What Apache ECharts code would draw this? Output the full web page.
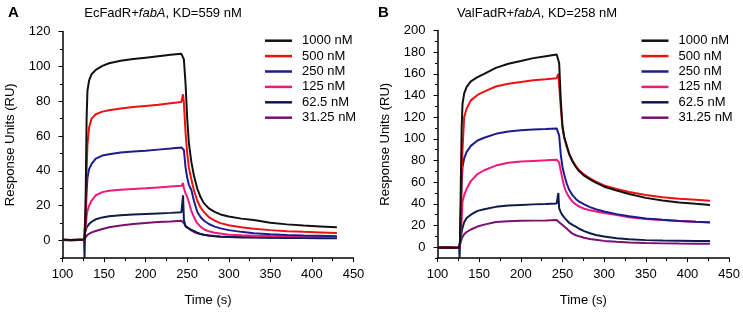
<!DOCTYPE html>
<html>
<head>
<meta charset="utf-8">
<script src="https://cdn.jsdelivr.net/npm/echarts@6/dist/echarts.min.js"></script>
<style>
  html, body { margin: 0; padding: 0; background: #fff; }
  #chart { width: 743px; height: 312px; }
</style>
</head>
<body>
<div id="chart"></div>
<script>
// concentrations (legend)
var concNames = ['1000 nM', '500 nM', '250 nM', '125 nM', '62.5 nM', '31.25 nM'];
var concColors = ['#111111', '#ee1111', '#1c1c8c', '#ee1a7a', '#0f1a4d', '#7a1070'];

// panel A - EcFadR + fabA
var timeA = [100, 110, 120, 126, 126.5, 127, 128, 129, 130, 132, 135, 140, 148, 156, 170, 185, 200, 215, 230, 243,
  245, 246, 248, 250, 252, 255, 258, 262, 266, 270, 276, 283, 290, 300, 315, 330, 350, 370, 390, 410, 430];
var a1000 = [0.5, 0.3, 0.5, 0.5, 0.5, 2, 30, 70, 86, 92, 95.5, 98, 100.3, 101.8, 103.2, 104.2, 105, 105.8, 106.6, 107.2,
  107, 104, 90, 70, 56, 45, 37.5, 30, 25, 21.5, 18.5, 16.5, 15, 13.8, 12.6, 11.8, 10.2, 9.3, 8.6, 8.1, 7.6];
var a500 = [0.5, 0.3, 0.5, 0.5, 0.5, 1, 20, 40, 55, 65, 70, 72.5, 74, 74.8, 75.8, 76.6, 77.3, 78, 78.8, 79.5,
  84, 79, 62, 50, 42, 35, 29, 23, 19, 16.5, 13.5, 11.5, 10, 8.8, 7.6, 6.8, 6, 5.4, 5, 4.7, 4.4];
var a250 = [0.5, 0.3, 0.5, 0.5, 0.5, 1, 15, 28, 36, 41, 44, 47, 48.8, 49.6, 50.5, 51.1, 51.6, 52.2, 52.8, 53.4,
  54.5, 52, 42, 36, 32, 29, 23, 16.5, 13.5, 11.5, 9.5, 8, 7, 6, 5, 4.2, 3.6, 3.2, 2.9, 2.7, 2.5];
var a125 = [0.5, 0.3, 0.5, 0.5, 0.5, 1, 8, 14, 17, 20, 23, 26, 27.8, 28.6, 29.2, 29.6, 30, 30.5, 31, 31.4,
  33, 30, 27, 25, 22, 17, 13.5, 10, 8, 6.5, 5.3, 4.5, 4, 3.4, 3, 2.8, 2.6, 2.5, 2.4, 2.3, 2.2];
var a62 = [0.3, 0.2, 0.4, 0.5, -10, 4, 6, 7.5, 8.5, 9.5, 10.8, 12.2, 13.3, 14, 14.5, 15, 15.3, 15.6, 15.9, 16.2,
  26, 12, 8, 7.5, 7, 6.2, 5.5, 4.5, 3.8, 3.3, 2.8, 2.5, 2.2, 2, 1.8, 1.7, 1.6, 1.5, 1.5, 1.4, 1.4];
var a31 = [0.3, 0.2, 0.4, 0.4, 0.4, 1, 2, 2.8, 3.3, 4, 4.7, 5.5, 6.6, 7.6, 8.6, 9.5, 10.1, 10.6, 11, 11.4,
  12.5, 10, 8.5, 7.5, 6.8, 5.8, 5, 4.2, 3.8, 3.4, 3, 2.6, 2.4, 2.2, 2, 1.9, 1.8, 1.7, 1.7, 1.6, 1.6];

// panel B - ValFadR + fabA
var timeB = [100, 110, 120, 126, 126.5, 127, 128, 129, 130, 132, 135, 140, 148, 156, 170, 185, 200, 215, 230, 243,
  245, 246, 248, 250, 252, 255, 258, 262, 266, 270, 276, 283, 290, 300, 315, 330, 350, 370, 390, 410, 427];
var b1000 = [-0.5, -0.3, -0.6, -0.5, -0.5, 5, 60, 110, 132, 142, 148, 153, 157, 160, 165.5, 169.3, 171.8, 174.5, 176.3, 177.8,
  179, 170, 135, 112, 102, 94, 86, 79, 74, 70, 66, 62.5, 59.5, 55.8, 52.3, 49, 45.5, 43, 41.3, 40, 39];
var b500 = [-0.5, -0.3, -0.6, -0.5, -0.5, 3, 30, 65, 90, 120, 128, 135.5, 140.5, 143.5, 148.3, 150.8, 152.5, 154, 155, 156,
  160, 150, 128, 110, 101, 93, 86, 80, 75, 71, 67, 63.5, 60.5, 57, 53.8, 51, 48.2, 46, 44.6, 43.7, 42.8];
var b250 = [-0.5, -0.3, -0.6, -0.5, -0.5, 5, 35, 58, 74, 82, 88, 93.5, 98.5, 101, 104.6, 106.8, 108, 108.6, 109, 109.6,
  110.5, 103, 85, 74, 67, 59, 53, 48, 44.5, 42, 39.5, 37, 35, 33, 30.5, 28.5, 26.5, 25.2, 24.2, 23.4, 22.8];
var b125 = [-0.5, -0.3, -0.6, -0.5, -0.5, 3, 15, 25, 42, 48, 54, 61, 67.5, 71, 75.3, 78, 79, 79.6, 80.2, 80.8,
  81, 78, 70, 63, 56, 50, 46, 42, 39.5, 37.5, 35.5, 34, 33, 31.6, 29.7, 27.7, 26, 25, 24.2, 23.5, 23];
var b62 = [-0.5, -0.3, -0.6, -0.5, -10, 5, 10, 14, 18, 23, 27, 30, 33.5, 35, 37.2, 38.4, 39, 39.5, 39.9, 40.3,
  50, 36, 32, 29.5, 27.5, 25, 22.5, 20.5, 19, 17, 14.8, 12.8, 11.3, 9.8, 8.3, 7.2, 6.5, 6.2, 6, 5.8, 5.6];
var b31 = [-0.5, -0.3, -0.6, -0.5, -0.5, 2, 5, 7.5, 9.5, 12, 14, 16.3, 19, 20.8, 23.2, 24, 24.3, 24.5, 24.7, 25,
  26, 23, 22, 20.5, 19, 17.3, 15, 12.5, 11, 10, 8.7, 7.6, 6.8, 5.8, 5, 4.3, 3.8, 3.5, 3.3, 3.2, 3.1];

// ticks
var xTicks = [100, 150, 200, 250, 300, 350, 400, 450];
var yTicksA = [0, 20, 40, 60, 80, 100, 120];
var yTicksB = [0, 20, 40, 60, 80, 100, 120, 140, 160, 180, 200];

var seriesA = [a1000, a500, a250, a125, a62, a31];
var seriesB = [b1000, b500, b250, b125, b62, b31];

var FONT = '"Liberation Sans", Arial, sans-serif';
var chart = echarts.init(document.getElementById('chart'));

function pairs(t, v) {
  return t.map(function (x, i) { return [x, v[i]]; });
}

function makeX(gridIndex) {
  return {
    type: 'value', gridIndex: gridIndex,
    min: xTicks[0], max: xTicks[xTicks.length - 1], interval: 50,
    name: 'Time (s)', nameLocation: 'middle', nameGap: 36,
    nameTextStyle: { fontFamily: FONT, fontSize: 13, color: '#000' },
    axisLine: { onZero: false, lineStyle: { color: '#000', width: 1.5 } },
    axisTick: { length: 4, lineStyle: { color: '#000', width: 1 } },
    minorTick: { show: true, splitNumber: 2, length: 3, lineStyle: { color: '#000', width: 1 } },
    axisLabel: { fontFamily: FONT, fontSize: 13, color: '#000', margin: 10 },
    splitLine: { show: false }
  };
}

function makeYMajor(gridIndex, ticks) {
  return {
    type: 'value', gridIndex: gridIndex,
    min: -10, max: ticks[ticks.length - 1],
    name: 'Response Units (RU)', nameLocation: 'middle', nameGap: 46,
    nameTextStyle: { fontFamily: FONT, fontSize: 13, color: '#000' },
    axisLine: { show: true, onZero: false, lineStyle: { color: '#000', width: 1.5 } },
    axisTick: { show: true, length: 4, customValues: ticks, lineStyle: { color: '#000', width: 1 } },
    axisLabel: { customValues: ticks, fontFamily: FONT, fontSize: 13, color: '#000', margin: 12 },
    splitLine: { show: false }
  };
}

function makeYMinor(gridIndex, ticks) {
  return {
    type: 'value', gridIndex: gridIndex, position: 'left',
    min: -10, max: ticks[ticks.length - 1], interval: 10,
    axisLine: { show: false },
    axisTick: { show: true, length: 2.5, lineStyle: { color: '#000', width: 1 } },
    axisLabel: { show: false },
    splitLine: { show: false }
  };
}

function makeSeries(time, list, xi, yi) {
  return list.map(function (vals, k) {
    return {
      name: concNames[k], type: 'line', xAxisIndex: xi, yAxisIndex: yi,
      data: pairs(time, vals), showSymbol: false, symbol: 'none', smooth: false,
      lineStyle: { color: concColors[k], width: 2 }, itemStyle: { color: concColors[k] },
      z: 10 - k, animation: false
    };
  });
}

function makeLegend(left) {
  return {
    orient: 'vertical', left: left, top: 28,
    data: concNames, icon: 'rect', itemWidth: 27, itemHeight: 2.5, itemGap: 0,
    selectedMode: false,
    textStyle: { fontFamily: FONT, fontSize: 13, color: '#000', lineHeight: 15.4, padding: [0, 0, 0, 5] }
  };
}

function titleText(x, name, kd) {
  return {
    type: 'text', x: x, y: 13,
    style: {
      text: '{n|' + name + '+}{i|fabA}{n|, KD=' + kd + ' nM}',
      align: 'center', verticalAlign: 'middle',
      rich: {
        n: { fontFamily: FONT, fontSize: 13, fill: '#000' },
        i: { fontFamily: FONT, fontSize: 13, fontStyle: 'italic', fill: '#000' }
      }
    }
  };
}

chart.setOption({
  animation: false,
  color: concColors,
  grid: [
    { left: 62.5, right: 389.5, top: 31.5, bottom: 52.5 },
    { left: 437.5, right: 13, top: 30.5, bottom: 53 }
  ],
  legend: [makeLegend(260), makeLegend(636.5)],
  xAxis: [makeX(0), makeX(1)],
  yAxis: [makeYMajor(0, yTicksA), makeYMinor(0, yTicksA), makeYMajor(1, yTicksB), makeYMinor(1, yTicksB)],
  graphic: [
    { type: 'text', x: 8, y: 13, style: { text: 'A', fontFamily: FONT, fontSize: 15, fontWeight: 'bold', fill: '#000', verticalAlign: 'middle' } },
    { type: 'text', x: 378, y: 13, style: { text: 'B', fontFamily: FONT, fontSize: 15, fontWeight: 'bold', fill: '#000', verticalAlign: 'middle' } },
    titleText(163, 'EcFadR', 559),
    titleText(537, 'ValFadR', 258)
  ],
  series: makeSeries(timeA, seriesA, 0, 0).concat(makeSeries(timeB, seriesB, 1, 2))
});
</script>
</body>
</html>
